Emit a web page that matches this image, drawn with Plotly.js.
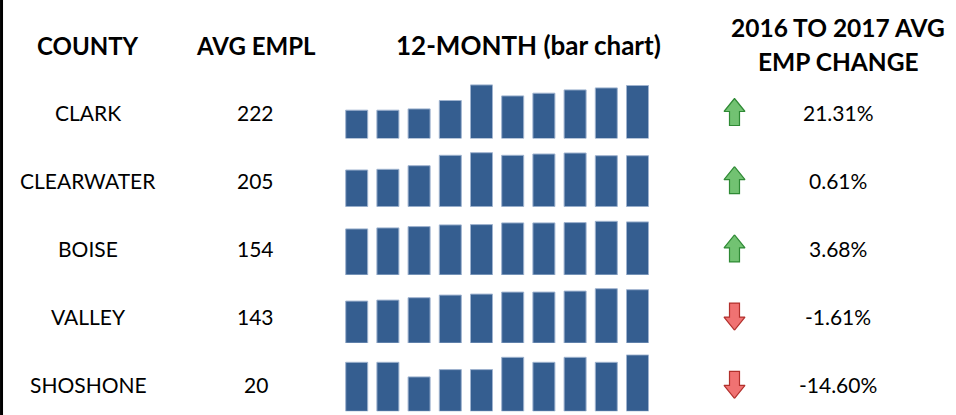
<!DOCTYPE html>
<html>
<head>
<meta charset="utf-8">
<script src="https://cdn.plot.ly/plotly-3.0.1.min.js"></script>
<style>
html,body{margin:0;padding:0;background:#fff;}
#chart{width:956px;height:415px;}
</style>
</head>
<body>
<div id="chart"></div>
<script>
// ---- data ----
const counties = ['CLARK', 'CLEARWATER', 'BOISE', 'VALLEY', 'SHOSHONE'];
const avgEmpl = [222, 205, 154, 143, 20];
const empChange = [21.31, 0.61, 3.68, -1.61, -14.60];
const months = [1, 2, 3, 4, 5, 6, 7, 8, 9, 10];
// monthly sparkline values (relative bar heights)
const clarkMonthly      = [28.3, 28.3, 29.6, 38.0, 53.6, 42.6, 45.3, 48.6, 50.6, 53.0];
const clearwaterMonthly = [36.7, 37.4, 41.0, 51.4, 54.0, 51.4, 52.7, 53.7, 51.0, 51.0];
const boiseMonthly      = [46.0, 47.0, 48.3, 50.0, 50.3, 52.0, 52.0, 52.3, 53.6, 53.0];
const valleyMonthly     = [42.0, 43.0, 45.4, 48.0, 49.0, 51.0, 51.0, 52.0, 54.4, 53.4];
const shoshoneMonthly   = [49.0, 49.0, 34.4, 41.7, 41.7, 54.0, 49.0, 54.0, 49.0, 56.4];
const headers = ['COUNTY', 'AVG EMPL', '12-MONTH (bar chart)', '2016 TO 2017 AVG<br>EMP CHANGE'];

const monthly = [clarkMonthly, clearwaterMonthly, boiseMonthly, valleyMonthly, shoshoneMonthly];

// ---- layout constants ----
const W = 956, H = 415;
const FONT = 'Lato, "Open Sans", sans-serif';
const rowCenter = i => 112 + i * 68.2;      // px
const rowBottom = i => 138.5 + i * 68.2;    // px
const barRangeMax = 57;
const colX = {county: 88, avg: 256, change: 838, arrow: 734.5};
const headerX = [88, 256, 528, 838];
const headerSize = [24, 24, 26, 24.5];

const px2py = y => 1 - y / H;
const px2px = x => x / W;

const traces = [];
const layout = {
  width: W, height: H,
  margin: {l: 0, r: 0, t: 0, b: 0},
  paper_bgcolor: '#ffffff',
  plot_bgcolor: 'rgba(0,0,0,0)',
  showlegend: false,
  bargap: 0.295,
  font: {family: FONT, color: '#000'},
  xaxis: {
    domain: [px2px(341.1), px2px(653.1)],
    range: [0.5, 10.5],
    visible: false, fixedrange: true
  },
  annotations: [],
  shapes: [
    {type: 'line', xref: 'paper', yref: 'paper', x0: 0.0016, x1: 0.0016, y0: 0, y1: 1,
     line: {color: '#000', width: 3}}
  ]
};

monthly.forEach((vals, i) => {
  const axName = i === 0 ? 'yaxis' : 'yaxis' + (i + 1);
  const b = rowBottom(i);
  layout[axName] = {
    domain: [px2py(b), px2py(b - barRangeMax)],
    range: [0, barRangeMax],
    visible: false, fixedrange: true
  };
  traces.push({
    type: 'bar', x: months, y: vals,
    xaxis: 'x', yaxis: i === 0 ? 'y' : 'y' + (i + 1),
    marker: {color: '#355e90', line: {color: '#9fb3cf', width: 1}},
    hoverinfo: 'skip'
  });
});

// overlay pixel axis for arrows
layout.xaxis2 = {domain: [0, 1], range: [0, W], visible: false, fixedrange: true, anchor: 'y6'};
layout.yaxis6 = {domain: [0, 1], range: [H, 0], visible: false, fixedrange: true, anchor: 'x2'};

function arrowShape(cx, cy, dir) {
  // dir = +1 up, -1 down
  const pts = [[0, -13.5], [10.5, -0.5], [5, -0.5], [5, 13.5], [-5, 13.5], [-5, -0.5], [-10.5, -0.5], [0, -13.5]];
  return {
    x: pts.map(p => cx + p[0]),
    y: pts.map(p => cy + p[1] * dir)
  };
}

empChange.forEach((v, i) => {
  const up = v >= 0;
  const a = arrowShape(colX.arrow, rowCenter(i), up ? 1 : -1);
  traces.push({
    type: 'scatter', mode: 'lines', x: a.x, y: a.y,
    xaxis: 'x2', yaxis: 'y6', fill: 'toself',
    fillcolor: up ? '#72c272' : '#f07272',
    line: {color: up ? '#2f8a35' : '#b2302c', width: 1.2},
    hoverinfo: 'skip'
  });
});

// header annotations (multi-line headers split into lines)
headers.forEach((h, j) => {
  const lines = h.split('<br>');
  const ys = lines.length === 1 ? [45] : [28, 62];
  lines.forEach((ln, k) => {
    layout.annotations.push({
      xref: 'paper', yref: 'paper', x: px2px(headerX[j]), y: px2py(ys[k]),
      xanchor: 'center', yanchor: 'middle', showarrow: false,
      text: '<b>' + ln + '</b>',
      font: {family: FONT, size: headerSize[j], color: '#000'}
    });
  });
});

// row annotations
counties.forEach((c, i) => {
  const y = px2py(rowCenter(i));
  const f = {family: FONT, size: 21, color: '#000'};
  layout.annotations.push({
    xref: 'paper', yref: 'paper', x: px2px(colX.county), y: y,
    xanchor: 'center', yanchor: 'middle', showarrow: false, text: c, font: f
  });
  layout.annotations.push({
    xref: 'paper', yref: 'paper', x: px2px(colX.avg), y: y,
    xanchor: 'center', yanchor: 'middle', showarrow: false, text: String(avgEmpl[i]), font: f
  });
  layout.annotations.push({
    xref: 'paper', yref: 'paper', x: px2px(colX.change), y: y,
    xanchor: 'center', yanchor: 'middle', showarrow: false,
    text: empChange[i].toFixed(2) + '%', font: f
  });
});

Plotly.newPlot('chart', traces, layout, {displayModeBar: false, staticPlot: true});
</script>
</body>
</html>
